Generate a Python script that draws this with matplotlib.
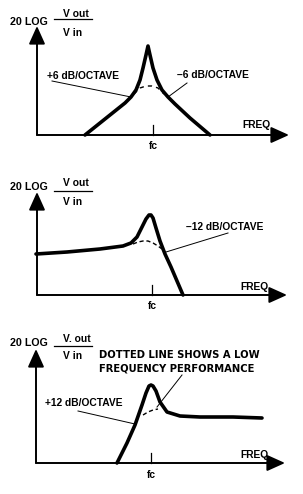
import matplotlib
matplotlib.use("Agg")
import matplotlib.pyplot as plt
import numpy as np

plt.rcParams['font.family'] = ['Liberation Sans', 'DejaVu Sans']

W, H = 303, 494

# Panel 1: band-pass response (+6 / -6 dB/octave)
p1_curve_x = [85, 100, 115, 125, 131, 136, 140, 143, 146, 148, 150, 153, 157, 162, 168, 175, 190, 210]
p1_curve_y = [135, 123, 111, 103, 97, 90, 80, 68, 55, 46, 55, 68, 80, 90, 97, 104, 118, 135]
p1_dash_x = [134, 140, 146, 152, 158, 164]
p1_dash_y = [94, 88, 86, 86, 88, 94]

# Panel 2: low-pass response (-12 dB/octave)
p2_curve_x = [36, 67, 100, 123, 131, 137, 142, 146, 149, 151, 153, 156, 160, 165, 171, 183]
p2_curve_y = [254, 252, 249, 246, 243, 237, 227, 219, 215, 215, 218, 228, 241, 254, 267, 295]
p2_dash_x = [133, 138, 143, 148, 153, 158, 162]
p2_dash_y = [244, 242, 241, 241, 243, 246, 249]

# Panel 3: high-pass response (+12 dB/octave)
p3_curve_x = [117, 127, 135, 142, 146, 149, 151, 153, 156, 160, 167, 180, 200, 233, 262]
p3_curve_y = [463, 443, 425, 405, 393, 386, 385, 386, 391, 402, 412, 416, 417, 417, 418]
p3_dash_x = [143, 148, 153, 158]
p3_dash_y = [415, 412, 410, 409]

fig = plt.figure(figsize=(W / 100, H / 100), dpi=100)
ax = fig.add_axes([0, 0, 1, 1])
ax.set_xlim(0, W)
ax.set_ylim(H, 0)
ax.axis('off')

FS = 7.4
LW_AX = 1.4
LW_C = 2.6


def axes_arrows(x0, y0, ytip, xtip):
    kw = dict(arrowstyle='-|>,head_length=1.0,head_width=0.45', lw=LW_AX, color='k',
              shrinkA=0, shrinkB=0, mutation_scale=11)
    ax.annotate('', xy=(x0, ytip), xytext=(x0, y0), arrowprops=kw)
    ax.annotate('', xy=(xtip, y0), xytext=(x0, y0), arrowprops=kw)


def ylabel(y_log, y_out, y_bar, y_in, vout='V out'):
    ax.text(10, y_log, '20 LOG', fontsize=FS + 0.3, fontweight='bold', va='center', ha='left')
    ax.text(63, y_out, vout, fontsize=FS, fontweight='bold', va='center', ha='left')
    ax.plot([54, 92], [y_bar, y_bar], color='k', lw=0.9)
    ax.text(63, y_in, 'V in', fontsize=FS, fontweight='bold', va='center', ha='left')


def tick(x, y0, label_y):
    ax.plot([x, x], [y0 - 10, y0], color='k', lw=0.9)
    ax.text(x, label_y, 'fc', fontsize=FS, fontweight='bold', ha='center', va='center')


# Panel 1
axes_arrows(37, 135, 26, 289)
ax.plot(p1_curve_x, p1_curve_y, color='k', lw=LW_C, solid_joinstyle='round', solid_capstyle='round')
ax.plot(p1_dash_x, p1_dash_y, color='k', lw=1.0, ls=(0, (3, 3)))
ylabel(22, 14, 19, 33)
tick(153, 135, 146)
ax.text(242, 125, 'FREQ', fontsize=FS, fontweight='bold', ha='left', va='center')
ax.text(47, 76, '+6 dB/OCTAVE', fontsize=FS, fontweight='bold', ha='left', va='center')
ax.plot([52, 131], [81, 97], color='k', lw=0.7)
ax.text(177, 75, '\u20136 dB/OCTAVE', fontsize=FS, fontweight='bold', ha='left', va='center')
ax.plot([187, 168], [83, 97], color='k', lw=0.7)

# Panel 2
axes_arrows(37, 295, 192, 287)
ax.plot(p2_curve_x, p2_curve_y, color='k', lw=LW_C, solid_joinstyle='round', solid_capstyle='round')
ax.plot(p2_dash_x, p2_dash_y, color='k', lw=1.0, ls=(0, (3, 2)))
ylabel(187, 183, 191, 202)
tick(152, 295, 306)
ax.text(240, 287, 'FREQ.', fontsize=FS, fontweight='bold', ha='left', va='center')
ax.text(186, 227, '\u201312 dB/OCTAVE', fontsize=FS, fontweight='bold', ha='left', va='center')
ax.plot([228, 166], [233, 252], color='k', lw=0.7)

# Panel 3
axes_arrows(36, 463, 349, 285)
ax.plot(p3_curve_x, p3_curve_y, color='k', lw=LW_C, solid_joinstyle='round', solid_capstyle='round')
ax.plot(p3_dash_x, p3_dash_y, color='k', lw=1.0, ls=(0, (3, 2)))
ylabel(343, 339, 346, 356, vout='V. out')
tick(151, 463, 475)
ax.text(240, 455, 'FREQ.', fontsize=FS, fontweight='bold', ha='left', va='center')
ax.text(45, 403, '+12 dB/OCTAVE', fontsize=FS, fontweight='bold', ha='left', va='center')
ax.plot([78, 135], [411, 424], color='k', lw=0.7)
ax.text(99, 355, 'DOTTED LINE SHOWS A LOW', fontsize=7.2, fontweight='bold',
        family=['DejaVu Sans'], ha='left', va='center')
ax.text(99, 368, 'FREQUENCY PERFORMANCE', fontsize=7.2, fontweight='bold',
        family=['DejaVu Sans'], ha='left', va='center')
ax.plot([182, 157], [375, 407], color='k', lw=0.7)

fig.savefig('out.png', dpi=100, facecolor='white')
